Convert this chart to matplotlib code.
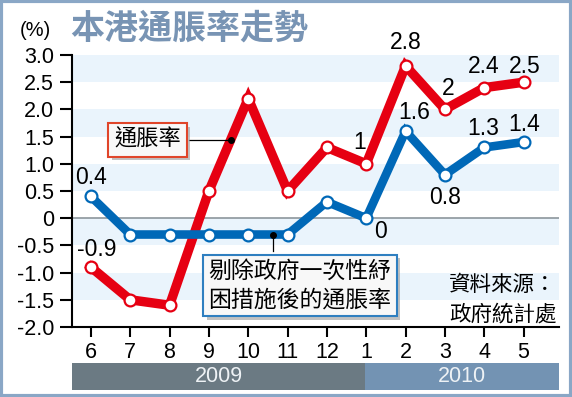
import numpy as np
import matplotlib
matplotlib.use("Agg")
import matplotlib.pyplot as plt
from matplotlib.patches import Rectangle
import matplotlib.patheffects as pe

plt.rcParams['font.family'] = ['Liberation Sans', 'Noto Sans CJK TC', 'DejaVu Sans']

# data
months = ['6', '7', '8', '9', '10', '11', '12', '1', '2', '3', '4', '5']
years = ['2009', '2010']
headline = [-0.9, -1.5, -1.6, 0.5, 2.2, 0.5, 1.3, 1.0, 2.8, 2.0, 2.4, 2.5]
underlying = [0.4, -0.3, -0.3, -0.3, -0.3, -0.3, 0.3, 0.0, 1.6, 0.8, 1.3, 1.4]
yticks = [3.0, 2.5, 2.0, 1.5, 1.0, 0.5, 0, -0.5, -1.0, -1.5, -2.0]
ytick_labels = ['3.0', '2.5', '2.0', '1.5', '1.0', '0.5', '0', '-0.5', '-1.0', '-1.5', '-2.0']

# which points carry a value label, with pixel offsets
red_lbl = {0: (6, 18), 7: (-7, 21), 8: (0, 23), 9: (3, 21), 10: (-1, 21), 11: (1, 16)}
blue_lbl = {0: (0, 19), 7: (14, -13), 8: (9, 19), 9: (0, -23), 10: (-1, 19), 11: (1, 18)}

RED = '#e60012'
BLUE = '#0068b7'
BAND = '#eaf4fc'

fig = plt.figure(figsize=(5.72, 3.97), dpi=100)
ax = fig.add_axes([72/572, 1-327/397, (559-72)/572, (327-55)/397])

x = np.arange(len(months))
ax.set_xlim(-0.48, 11.9)
ax.set_ylim(-2.0, 3.0)

# alternating bands
for lo in [2.5, 1.5, 0.5, -0.5, -1.5]:
    ax.axhspan(lo, lo + 0.5, color=BAND, lw=0, zorder=0)
ax.axhline(0, color='#8c969c', lw=1.2, zorder=1)

ax.plot(x, headline, color=RED, lw=6.8, solid_joinstyle='miter', zorder=3,
        marker='o', ms=8.5, mfc='white', mec=RED, mew=1.6)
ax.plot(x, underlying, color=BLUE, lw=6.2, solid_joinstyle='miter', zorder=3,
        marker='o', ms=8.5, mfc='white', mec=BLUE, mew=1.6)

for i, (dx, dy) in red_lbl.items():
    ax.annotate(f"{headline[i]:g}", (x[i], headline[i]), xytext=(dx, dy),
                textcoords='offset pixels', ha='center', va='center', fontsize=16.5, zorder=5)
for i, (dx, dy) in blue_lbl.items():
    ax.annotate(f"{underlying[i]:g}", (x[i], underlying[i]), xytext=(dx, dy),
                textcoords='offset pixels', ha='center', va='center', fontsize=16.5, zorder=5)

# legend call-outs
shadow = [pe.SimplePatchShadow(offset=(2.5, -2.5), shadow_rgbFace='#999999', alpha=0.6), pe.Normal()]
rx = 3.55
ry = np.interp(rx, x, headline)
ax.plot([rx - 1.05, rx], [ry, ry], color='black', lw=0.9, zorder=4)
ax.plot(rx, ry, 'o', color='black', ms=4, zorder=6)
t1 = ax.annotate('通脹率', (rx, ry), xytext=(-83, 0), textcoords='offset pixels',
                 ha='center', va='center', fontsize=16, zorder=6,
                 bbox=dict(boxstyle='square,pad=0.27', fc='#f8f8f8', ec='#e0452a', lw=1.5))
t1.get_bbox_patch().set_path_effects(shadow)

bx = 4.63
by = np.interp(bx, x, underlying)
ax.plot([bx, bx], [by, by - 0.3], color='black', lw=0.9, zorder=4)
ax.plot(bx, by, 'o', color='black', ms=4, zorder=6)
t2 = ax.annotate('剔除政府一次性紓\n困措施後的通脹率', (bx, by), xytext=(27, -51),
                 textcoords='offset pixels', ha='center', va='center', fontsize=16.5,
                 linespacing=1.3, zorder=6,
                 bbox=dict(boxstyle='square,pad=0.22', fc='#f8f8f8', ec='#2f7fc0', lw=1.5))
t2.get_bbox_patch().set_path_effects(shadow)

ax.text(0.995, 0.1, '資料來源：\n政府統計處', transform=ax.transAxes, ha='right', va='center',
        fontsize=15.5, linespacing=1.45, family=['Noto Sans CJK TC'], zorder=5)

ax.set_xticks(x)
ax.set_xticklabels(months, fontsize=15.5)
ax.set_yticks(yticks)
ax.set_yticklabels(ytick_labels, fontsize=15.5)
ax.tick_params(axis='both', direction='out', width=1.5, color='black')
ax.tick_params(axis='x', length=7, pad=4)
ax.tick_params(axis='y', length=9, pad=4)
for s in ['top', 'right']:
    ax.spines[s].set_visible(False)
ax.spines['left'].set_linewidth(1.5)
ax.spines['bottom'].set_linewidth(1.5)

# year bars
yax = fig.add_axes([72/572, 1-390/397, (559-72)/572, 27/397])
yax.set_xlim(ax.get_xlim())
yax.set_ylim(0, 1)
split = 6.98
yax.barh(0.5, split + 0.48, left=-0.48, height=1, color='#6b7a83')
yax.barh(0.5, 11.9 - split, left=split, height=1, color='#7393b3')
yax.text((split - 0.48) / 2, 0.5, years[0], ha='center', va='center', color='#eef2f5', fontsize=15.5)
yax.text((split + 11.9) / 2, 0.5, years[1], ha='center', va='center', color='#eef2f5', fontsize=15.5)
yax.axis('off')

fig.text(35/572, 1-30/397, '(%)', ha='center', va='center', fontsize=14.5)
fig.text(70/572, 1-28/397, '本港通脹率走勢', ha='left', va='center', fontsize=24.5,
         fontweight='bold', color='#7894b4', family=['Noto Sans CJK TC'])

fig.patches.append(Rectangle((0.002, 0.003), 0.996, 0.994, transform=fig.transFigure,
                             fill=False, ec='#8aa7c6', lw=3))

fig.savefig('out.png', dpi=100)
